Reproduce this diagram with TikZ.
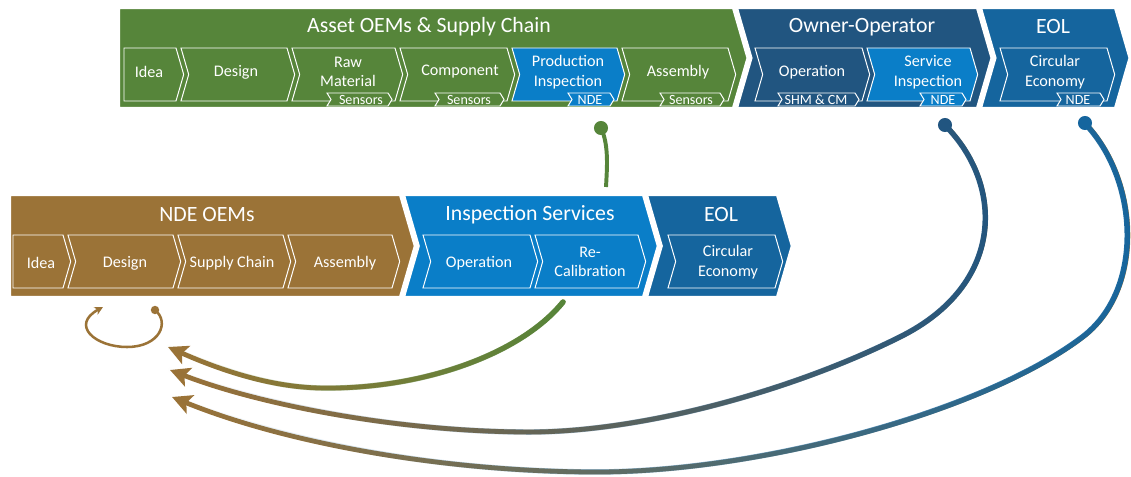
\documentclass[tikz,border=0pt]{standalone}
\usepackage{fontspec}
\setmainfont{Carlito}
\usepackage{xcolor}
\definecolor{colorAsset}{RGB}{86,133,58}
\definecolor{colorOwner}{RGB}{33,85,128}
\definecolor{colorEol}{RGB}{21,101,158}
\definecolor{colorInspect}{RGB}{10,126,200}
\definecolor{colorNde}{RGB}{155,115,55}
\usetikzlibrary{arrows.meta, fadings, positioning}
\tikzset{
  groupbox/.style={draw=white, line width=1.5pt},
  stage/.style={draw=white, line width=0.7pt},
  grouptitle/.style={text=white, font=\fontsize{15.5}{18}\selectfont},
  stagetext/.style={text=white, align=center, font=\fontsize{11.5}{14}\selectfont},
  tagtext/.style={text=white, inner sep=0pt, font=\fontsize{10}{10}\selectfont},
  flow/.style={line width=3.4pt, line cap=round},
  flowtop/.style={line width=3.9pt, line cap=round, path fading=fadeleft},
  bigtip/.style={-{Stealth[length=14pt, width=14pt, inset=3pt]}},
}
\tikzfading[name=fadeleft, left color=transparent!100, right color=transparent!0]
% chevron: [style] fill, x left, x right, y top, y bottom, notch (0/1)
\newcommand{\chev}[7][stage]{%
  \pgfmathsetmacro{\ym}{(#5+#6)/2}%
  \pgfmathsetmacro{\dd}{max(0.145*(#6-#5),4)}%
  \filldraw[#1, fill=#2] (#3,#5) -- (#4,#5) -- ({#4+\dd},\ym) -- (#4,#6) -- (#3,#6) -- ({#3+#7*\dd},\ym) -- cycle;}

\begin{document}
\begin{tikzpicture}[x=0.025cm, y=-0.025cm]
\useasboundingbox (0,0) rectangle (1131,477);

% top row
\chev[groupbox]{colorAsset}{119}{733}{8}{108}{0}
\chev[groupbox]{colorOwner}{737}{977}{8}{108}{1}
\chev[groupbox]{colorEol}{981}{1115}{8}{108}{1}
\chev{colorAsset}{124}{176}{48}{101}{0}
\chev{colorAsset}{181}{287}{48}{101}{1}
\chev{colorAsset}{292}{395}{48}{101}{1}
\chev{colorAsset}{400}{507}{48}{101}{1}
\chev{colorInspect}{512}{617}{48}{101}{1}
\chev{colorAsset}{622}{728}{48}{101}{1}
\chev{colorOwner}{755}{862}{48}{101}{1}
\chev{colorInspect}{867}{970}{48}{101}{1}
\chev{colorEol}{1000}{1107}{48}{101}{1}
\chev{colorAsset}{327}{388}{93}{106}{1}
\chev{colorAsset}{435}{500}{93}{106}{1}
\chev{colorInspect}{568}{610}{93}{106}{1}
\chev{colorAsset}{660}{720}{93}{106}{1}
\chev{colorOwner}{778}{855}{93}{106}{1}
\chev{colorInspect}{920}{962}{93}{106}{1}
\chev{colorEol}{1057}{1100}{93}{106}{1}

\node[grouptitle] (asset) at (429,27) {Asset OEMs \& Supply Chain};
\node[grouptitle] (owner) at (862,27) {Owner-Operator};
\node[grouptitle] (eolT) at (1053,27) {EOL};
\node[stagetext] (ideaT) at (149,72) {Idea};
\node[stagetext] (designT) at (236,72) {Design};
\node[stagetext] (rawT) at (348,72) {Raw\\Material};
\node[stagetext] (compT) at (460,72) {Component};
\node[stagetext] (prodT) at (568,72) {Production\\Inspection};
\node[stagetext] (asmT) at (678,72) {Assembly};
\node[stagetext] (operT) at (812,72) {Operation};
\node[stagetext] (servT) at (928,72) {Service\\Inspection};
\node[stagetext] (circT) at (1055,72) {Circular\\Economy};
\node[tagtext] (rawS) at (361,99.5) {Sensors};
\node[tagtext] (compS) at (469,99.5) {Sensors};
\node[tagtext] (prodN) at (590,99.5) {NDE};
\node[tagtext] (asmS) at (691,99.5) {Sensors};
\node[tagtext] (operS) at (816,99.5) {SHM \& CM};
\node[tagtext] (servN) at (943,99.5) {NDE};
\node[tagtext] (circN) at (1078,99.5) {NDE};

% bottom row
\chev[groupbox]{colorNde}{10}{400}{195}{297}{0}
\chev[groupbox]{colorInspect}{404}{643}{195}{297}{1}
\chev[groupbox]{colorEol}{647}{777}{195}{297}{1}
\chev{colorNde}{13}{63}{235}{288}{0}
\chev{colorNde}{68}{173}{235}{288}{1}
\chev{colorNde}{178}{283}{235}{288}{1}
\chev{colorNde}{288}{392}{235}{288}{1}
\chev{colorInspect}{423}{530}{235}{288}{1}
\chev{colorInspect}{535}{638}{235}{288}{1}
\chev{colorEol}{668}{775}{235}{288}{1}

\node[grouptitle] (ndeB) at (207,215) {NDE OEMs};
\node[grouptitle] (insB) at (530,215) {Inspection Services};
\node[grouptitle] (eolB) at (721,215) {EOL};
\node[stagetext] (ideaB) at (41,263) {Idea};
\node[stagetext] (designB) at (125,263) {Design};
\node[stagetext] (supplyB) at (232,263) {Supply Chain};
\node[stagetext] (asmB) at (345,263) {Assembly};
\node[stagetext] (operB) at (479,263) {Operation};
\node[stagetext] (recalB) at (590,262) {Re-\\Calibration};
\node[stagetext] (circB) at (728,262) {Circular\\Economy};

% connectors
\coordinate (piDot) at (601,128);
\coordinate (insTop) at (606,187);
\coordinate (insBot) at (563,302);
\coordinate (siDot) at (945,125);
\coordinate (eolDot) at (1085,123);
\coordinate (tipA) at (168,347);
\coordinate (tipB) at (170,370);
\coordinate (tipC) at (172,397);
\coordinate (loopDot) at (155,310);
\coordinate (loopTip) at (103,307);

\draw[colorAsset, line width=2.8pt] (piDot) .. controls (609,145) and (607,168) .. (insTop);
\fill[colorAsset] (piDot) circle[radius=5pt];

\draw[flow, colorNde, bigtip] (insBot) .. controls (520,355) and (420,390) .. (320,388) .. controls (270,387) and (220,370) .. (tipA);
\draw[flowtop, colorAsset] (insBot) .. controls (520,355) and (420,390) .. (320,388) .. controls (270,387) and (220,370) .. (tipA);

\draw[flow, colorNde, bigtip] (siDot) .. controls (1005,185) and (1005,285) .. (900,337) .. controls (790,392) and (640,432) .. (530,432) .. controls (400,432) and (260,405) .. (tipB);
\draw[flowtop, colorOwner] (siDot) .. controls (1005,185) and (1005,285) .. (900,337) .. controls (790,392) and (640,432) .. (530,432) .. controls (400,432) and (260,405) .. (tipB);
\fill[colorOwner] (siDot) circle[radius=5pt];

\draw[flow, colorNde, bigtip] (eolDot) .. controls (1140,180) and (1145,290) .. (1083,337) .. controls (984,412) and (760,472) .. (597,472) .. controls (450,472) and (290,445) .. (tipC);
\draw[flowtop, colorEol] (eolDot) .. controls (1140,180) and (1145,290) .. (1083,337) .. controls (984,412) and (760,472) .. (597,472) .. controls (450,472) and (290,445) .. (tipC);
\fill[colorEol] (eolDot) circle[radius=5pt];

\draw[colorNde, line width=1.8pt, -{Stealth[length=6pt, width=6pt]}] (loopDot) .. controls (170,322) and (160,347) .. (127,347) .. controls (95,347) and (70,325) .. (loopTip);
\fill[colorNde] (loopDot) circle[radius=3pt];
\end{tikzpicture}
\end{document}
